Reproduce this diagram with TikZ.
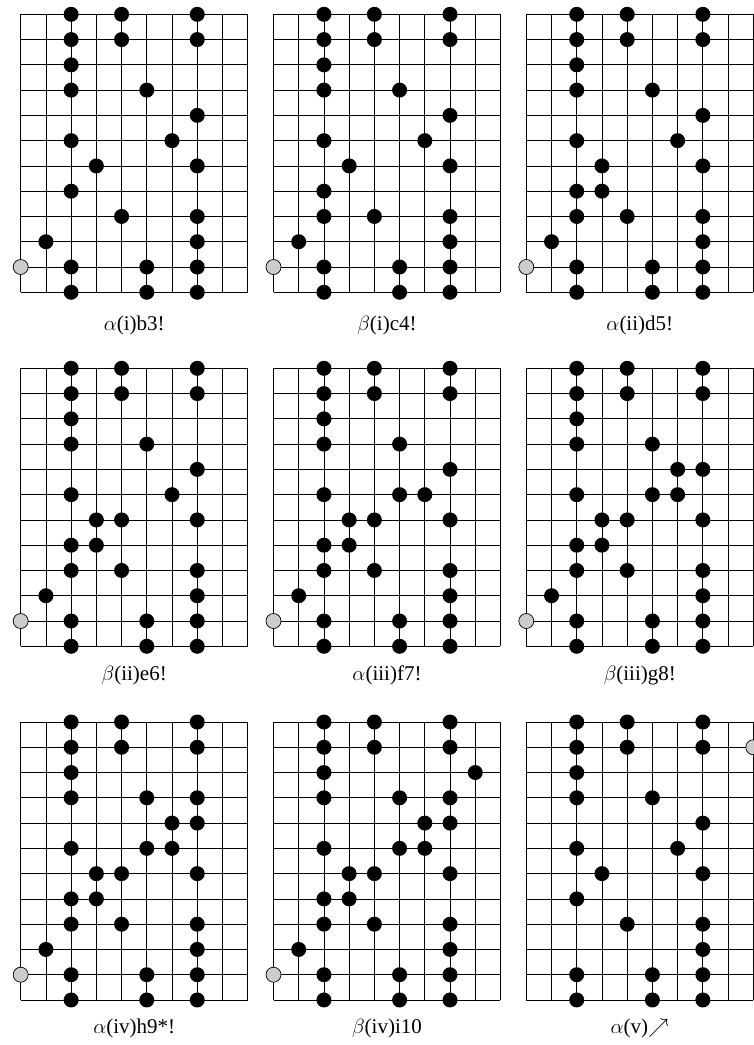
\documentclass[tikz,border=0pt]{standalone}
\usepackage{fontspec}
\setmainfont{Liberation Serif}
\tikzset{
  gridline/.style={line width=0.8pt, draw=black},
  blackstone/.style={fill=black},
  graystone/.style={fill={rgb,255:red,204;green,204;blue,204}, draw=black, line width=0.7pt},
  caption/.style={font=\fontsize{21}{25}\selectfont, anchor=center, inner sep=0pt}
}
% #1 x, #2 y, #3 list of black stones, #4 gray stone c/r, #5 label, #6 node name, #7 label y
\newcommand\goboard[7]{%
  \begin{scope}[shift={(#1,#2)}]
    \foreach \i in {0,...,9} \draw[gridline] (\i*25.22,0) -- (\i*25.22,11*25.27);
    \foreach \j in {0,...,11} \draw[gridline] (0,\j*25.27) -- (9*25.22,\j*25.27);
    \foreach \c/\r in #3 \fill[blackstone] (\c*25.22,\r*25.27) circle (7.5pt);
    \foreach \c/\r in {#4} \draw[graystone] (\c*25.22,\r*25.27) circle (7.5pt);
  \end{scope}
  \node[caption] (#6) at (#1+113.5,#7) {#5};}
\def\LA{2/0,4/0,7/0,2/1,4/1,7/1,2/2,2/3,5/3,7/4,2/5,6/5,3/6,7/6,2/7,4/8,7/8,1/9,7/9,2/10,5/10,7/10,2/11,5/11,7/11}
\edef\LB{\LA,2/8}
\edef\LC{\LB,3/7}
\edef\LD{\LC,4/6}
\edef\LE{\LD,5/5}
\edef\LF{\LE,6/4}
\edef\LG{\LF,7/3}
\edef\LH{\LG,8/2}
\def\LI{2/0,4/0,7/0,2/1,4/1,7/1,2/2,2/3,5/3,7/4,2/5,6/5,3/6,7/6,2/7,4/8,7/8,7/9,2/10,5/10,7/10,2/11,5/11,7/11}
\begin{document}
\begin{tikzpicture}[x=1pt,y=-1pt]
  \useasboundingbox (0,0) rectangle (753,1045);
  \goboard{20.7}{14.3}{\LA}{0/10}{$\alpha$(i)b3!}{capA}{325}
  \goboard{273.5}{14.3}{\LB}{0/10}{$\beta$(i)c4!}{capB}{325}
  \goboard{526.3}{14.3}{\LC}{0/10}{$\alpha$(ii)d5!}{capC}{325}
  \goboard{20.7}{368.3}{\LD}{0/10}{$\beta$(ii)e6!}{capD}{675.5}
  \goboard{273.5}{368.3}{\LE}{0/10}{$\alpha$(iii)f7!}{capE}{675.5}
  \goboard{526.3}{368.3}{\LF}{0/10}{$\beta$(iii)g8!}{capF}{675.5}
  \goboard{20.7}{722}{\LG}{0/10}{$\alpha$(iv)h9*!}{capG}{1028}
  \goboard{273.5}{722}{\LH}{0/10}{$\beta$(iv)i10}{capH}{1028}
  \goboard{526.3}{722}{\LI}{9/1}{$\alpha$(v)$\nearrow$}{capI}{1028}
\end{tikzpicture}
\end{document}
